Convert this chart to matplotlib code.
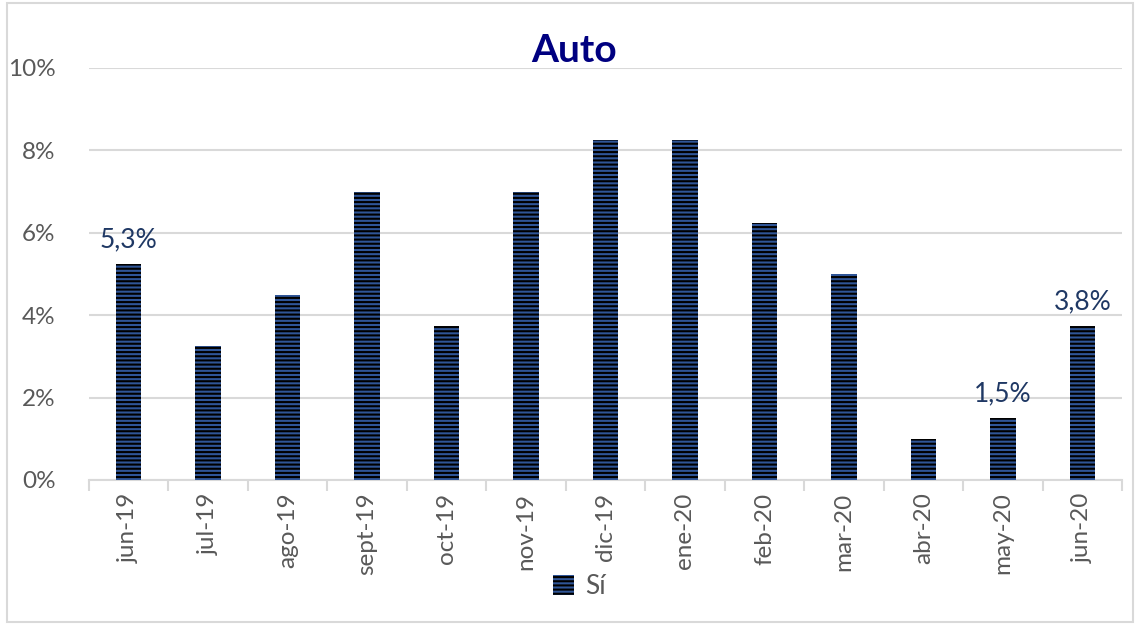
import matplotlib
matplotlib.use("Agg")
import matplotlib.pyplot as plt
from matplotlib.patches import Rectangle, Patch

categories = ["jun-19", "jul-19", "ago-19", "sept-19", "oct-19", "nov-19", "dic-19",
              "ene-20", "feb-20", "mar-20", "abr-20", "may-20", "jun-20"]
values = [5.25, 3.25, 4.5, 7.0, 3.75, 7.0, 8.25, 8.25, 6.25, 5.0, 1.0, 1.5, 3.75]
labels = {0: "5,3%", 11: "1,5%", 12: "3,8%"}
yticks = [0, 2, 4, 6, 8, 10]
ytick_labels = ["0%", "2%", "4%", "6%", "8%", "10%"]
series_name = "Sí"
title = "Auto"

plt.rcParams['font.family'] = ['Lato', 'DejaVu Sans']
plt.rcParams['hatch.linewidth'] = 1.5

fig = plt.figure(figsize=(11.36, 6.27), dpi=100)
ax = fig.add_axes([89/1136, 1-480/627, (1122-89)/1136, (480-68)/627])

x = list(range(len(categories)))
bars = ax.bar(x, values, width=0.32, color="#2F5597", edgecolor="black",
              linewidth=0, hatch="----", zorder=3)

for i, t in labels.items():
    ax.text(i, values[i] + 0.28, t, ha="center", va="bottom", fontsize=19,
            color="#1F3864", zorder=4)

ax.set_xlim(-0.5, len(categories) - 0.5)
ax.set_ylim(0, 10)
ax.set_yticks(yticks)
ax.set_yticklabels(ytick_labels, fontsize=17.5, color="#595959")
ax.yaxis.grid(True, color="#D9D9D9", linewidth=1.5, zorder=0)
ax.tick_params(axis="y", length=0, pad=24)

ax.set_xticks(x)
ax.set_xticklabels(categories, rotation=90, fontsize=17.5, color="#595959")
ax.set_xticks([i - 0.5 for i in range(len(categories) + 1)], minor=True)
ax.tick_params(axis="x", which="major", length=0, pad=9)
ax.tick_params(axis="x", which="minor", length=8, color="#D9D9D9", width=1.5)

for s in ["top", "right", "left"]:
    ax.spines[s].set_visible(False)
ax.spines["bottom"].set_color("#D9D9D9")
ax.spines["bottom"].set_linewidth(1.5)

fig.text(0.505, 1-51/627, title, ha="center", va="center", fontsize=28,
         fontweight="bold", color="#000080")

handle = Patch(facecolor="#2F5597", edgecolor="black", linewidth=0, hatch="----")
leg = fig.legend([handle], [series_name], loc="center", bbox_to_anchor=(0.51, 1-587/627),
                 frameon=False, fontsize=19, handlelength=0.8, handleheight=0.8,
                 handletextpad=0.4)
for t in leg.get_texts():
    t.set_color("#595959")

fig.patches.append(Rectangle((7/1136, 1-622/627), (1133-7)/1136, (622-3)/627,
                             transform=fig.transFigure, fill=False,
                             edgecolor="#D9D9D9", linewidth=1.5))

fig.savefig("out.png", dpi=100)
